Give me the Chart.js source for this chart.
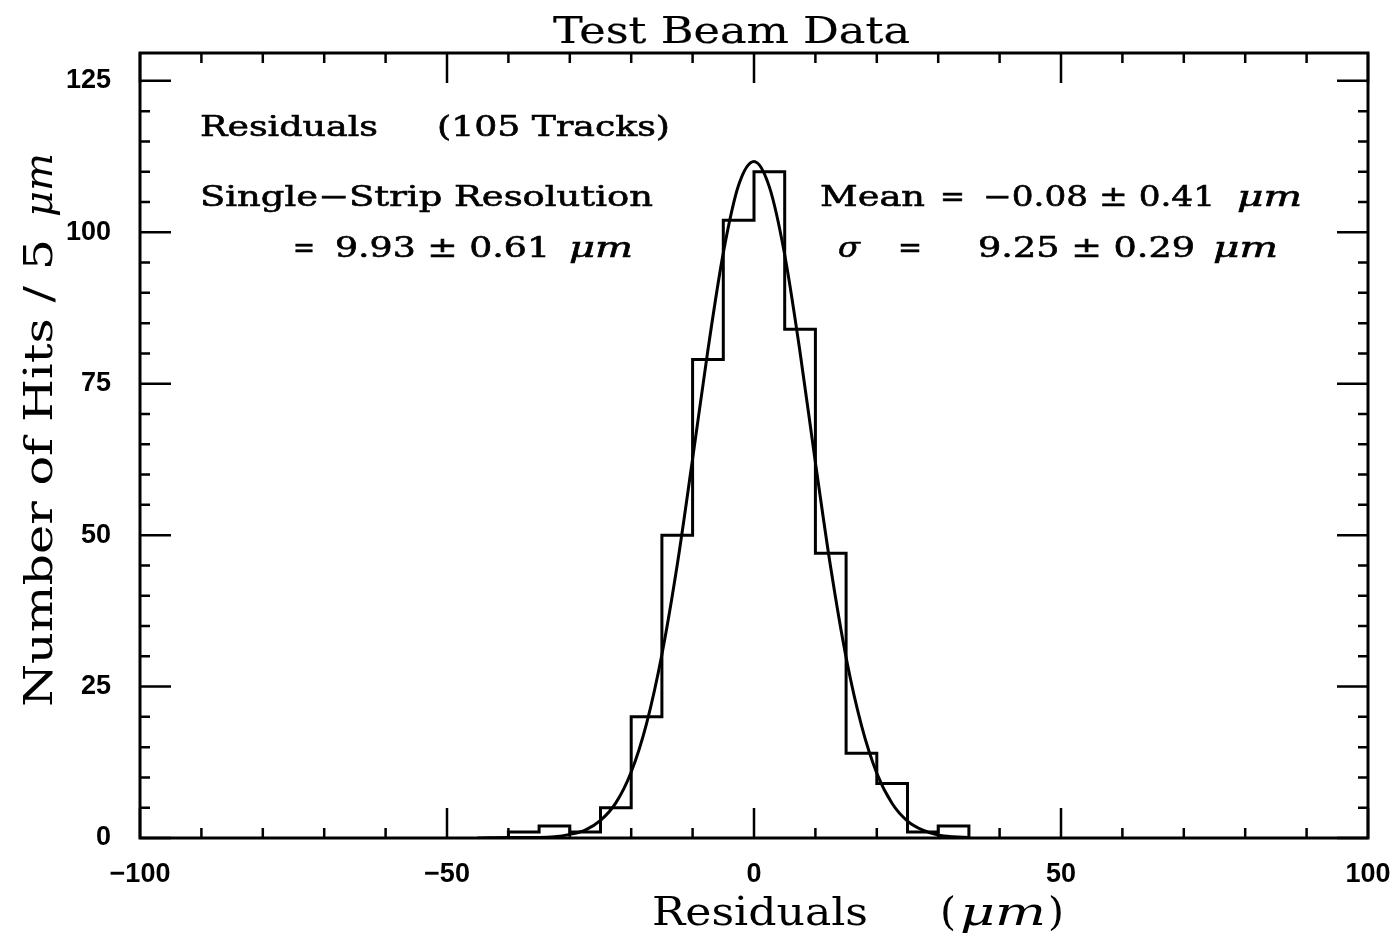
<!DOCTYPE html>
<html>
<head>
<meta charset="utf-8">
<script src="https://cdn.jsdelivr.net/npm/chart.js@4/dist/chart.umd.min.js"></script>
<style>
  html, body { margin: 0; padding: 0; background: #fff; }
  #wrap { width: 1397px; height: 940px; }
</style>
</head>
<body>
<div id="wrap"><canvas id="c" width="1397" height="940"></canvas></div>
<script>
// histogram: lower bin edges (5 um bins) and hits per bin
const binLow = [-40, -35, -30, -25, -20, -15, -10, -5, 0, 5, 10, 15, 20, 25, 30];
const hits   = [1, 2, 1, 5, 20, 50, 79, 102, 110, 84, 47, 14, 9, 1, 2];
const binWidth = 5;

// fitted gaussian
const fitX = [-45, -40, -35, -32.5, -30, -27.5, -25, -22.5, -20, -17.5, -15, -12.5, -10, -7.5, -5, -2.5,
              0, 2.5, 5, 7.5, 10, 12.5, 15, 17.5, 20, 22.5, 25, 27.5, 30, 32.5, 35];
const fitY = [0, 0.1, 0.1, 0.2, 0.6, 1.3, 2.9, 5.8, 10.9, 18.9, 30.3, 45.1, 62.6, 80.6, 96.6, 107.8,
              111.7, 107.5, 96.3, 80.2, 62.0, 44.6, 29.8, 18.6, 10.7, 5.7, 2.8, 1.3, 0.5, 0.2, 0.1];

const xLabels = [-100, -50, 0, 50, 100];
const yLabels = [0, 25, 50, 75, 100, 125];

const SERIF = '"DejaVu Serif", serif';
const SANS = '"Liberation Sans", Arial, sans-serif';

// step outline of the histogram
const histPts = [{ x: binLow[0], y: 0 }];
binLow.forEach((lo, i) => histPts.push({ x: lo, y: hits[i] }));
histPts.push({ x: binLow[binLow.length - 1] + binWidth, y: 0 });

const fitPts = fitX.map((x, i) => ({ x: x, y: fitY[i] }));

const frame = {
  id: 'frame',
  afterDatasetsDraw(chart) {
    const ctx = chart.ctx;
    const a = chart.chartArea;
    const xs = chart.scales.x, ys = chart.scales.y;
    ctx.save();
    ctx.strokeStyle = '#000';
    ctx.lineWidth = 3;
    ctx.strokeRect(a.left, a.top, a.right - a.left, a.bottom - a.top);
    ctx.lineWidth = 2.5;
    ctx.beginPath();
    for (let v = -100; v <= 100; v += 10) {
      const px = xs.getPixelForValue(v);
      const len = v % 50 === 0 ? 30 : 10;
      ctx.moveTo(px, a.bottom); ctx.lineTo(px, a.bottom - len);
      ctx.moveTo(px, a.top); ctx.lineTo(px, a.top + len);
    }
    for (let v = 0; v <= 125; v += 5) {
      const py = ys.getPixelForValue(v);
      const len = v % 25 === 0 ? 31 : 10;
      ctx.moveTo(a.left, py); ctx.lineTo(a.left + len, py);
      ctx.moveTo(a.right, py); ctx.lineTo(a.right - len, py);
    }
    ctx.stroke();
    ctx.restore();
  }
};

// draw text stretched to span x0..x1, a bit heavier like the old plotter font
function fit(ctx, t, font, x0, x1, y, heavy) {
  ctx.font = font;
  const w = ctx.measureText(t).width;
  ctx.save();
  ctx.translate(x0, y);
  ctx.scale((x1 - x0) / w, 1);
  ctx.fillText(t, 0, 0);
  if (heavy) {
    ctx.lineWidth = heavy;
    ctx.strokeText(t, 0, 0);
  }
  ctx.restore();
}

const texts = {
  id: 'texts',
  afterDraw(chart) {
    const ctx = chart.ctx;
    ctx.save();
    ctx.fillStyle = '#000';
    ctx.strokeStyle = '#000';
    ctx.textBaseline = 'alphabetic';
    ctx.textAlign = 'left';
    const s = '28px ' + SERIF;
    const it = 'italic 28px ' + SERIF;
    const h = 0.6;

    fit(ctx, 'Test Beam Data', '38px ' + SERIF, 553, 910, 43, 0.2);

    fit(ctx, 'Residuals', s, 200, 378, 136, h);
    fit(ctx, '(105 Tracks)', s, 437, 670, 136, h);

    fit(ctx, 'Single\u2212Strip Resolution', s, 200, 653, 206, h);
    fit(ctx, 'Mean', s, 820, 925, 206, h);
    fit(ctx, '=', s, 940, 965, 206, h);
    fit(ctx, '\u22120.08 \u00b1 0.41', s, 983, 1215, 206, h);
    fit(ctx, '\u03bcm', it, 1237, 1302, 206, h);

    fit(ctx, '=', s, 293, 315, 257, h);
    fit(ctx, '9.93 \u00b1 0.61', s, 335, 550, 257, h);
    fit(ctx, '\u03bcm', it, 569, 633, 257, h);
    fit(ctx, '\u03c3', it, 838, 860, 257, h);
    fit(ctx, '=', s, 898, 922, 257, h);
    fit(ctx, '9.25 \u00b1 0.29', s, 978, 1195, 257, h);
    fit(ctx, '\u03bcm', it, 1213, 1278, 257, h);

    // axis titles
    fit(ctx, 'Residuals', '40px ' + SERIF, 652, 868, 925);
    fit(ctx, '(', '40px ' + SERIF, 940, 956, 925);
    fit(ctx, '\u03bcm', 'italic 40px ' + SERIF, 960, 1046, 925);
    fit(ctx, ')', '40px ' + SERIF, 1048, 1064, 925);

    ctx.translate(52, 707);
    ctx.rotate(-Math.PI / 2);
    fit(ctx, 'Number of Hits / 5', '40px ' + SERIF, 0, 468, 0);
    fit(ctx, '\u03bcm', 'italic 40px ' + SERIF, 490, 554, 0);
    ctx.restore();
  }
};

new Chart(document.getElementById('c'), {
  type: 'line',
  data: {
    datasets: [
      {
        label: 'Residuals',
        data: histPts,
        stepped: 'before',
        borderColor: '#000',
        borderWidth: 3,
        pointRadius: 0,
        fill: false
      },
      {
        label: 'Gaussian fit',
        data: fitPts,
        borderColor: '#000',
        borderWidth: 3,
        pointRadius: 0,
        cubicInterpolationMode: 'monotone',
        fill: false
      }
    ]
  },
  options: {
    responsive: false,
    animation: false,
    devicePixelRatio: 1,
    layout: { padding: { top: 53, right: 29, left: 0, bottom: 0 } },
    plugins: { legend: { display: false }, tooltip: { enabled: false } },
    scales: {
      x: {
        type: 'linear',
        min: -100,
        max: 100,
        grid: { display: false },
        border: { display: false },
        afterFit: s => { s.height = 102; s.paddingLeft = 0; s.paddingRight = 0; },
        ticks: {
          stepSize: 10,
          autoSkip: false,
          maxRotation: 0,
          padding: 12,
          color: '#000',
          font: { family: SANS, size: 27, weight: 'bold' },
          callback: v => xLabels.includes(v) ? String(v).replace('-', '\u2212') : ''
        }
      },
      y: {
        type: 'linear',
        min: 0,
        max: 129.6,
        grid: { display: false },
        border: { display: false },
        afterFit: s => { s.width = 140; s.paddingTop = 0; s.paddingBottom = 0; },
        ticks: {
          stepSize: 5,
          includeBounds: false,
          autoSkip: false,
          padding: 21,
          color: '#000',
          font: { family: SANS, size: 27, weight: 'bold' },
          callback: v => yLabels.includes(v) ? String(v) : ''
        }
      }
    }
  },
  plugins: [frame, texts]
});
</script>
</body>
</html>
